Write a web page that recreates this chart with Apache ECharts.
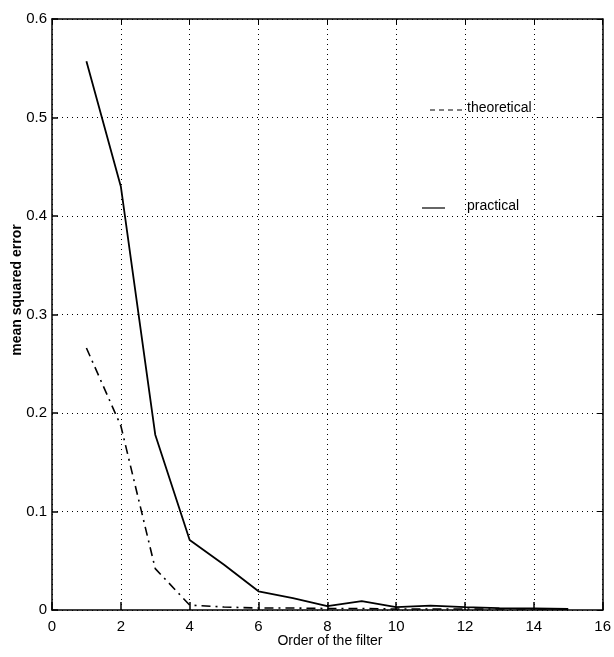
<!DOCTYPE html>
<html>
<head>
<meta charset="utf-8">
<script src="https://cdn.jsdelivr.net/npm/echarts@6/dist/echarts.min.js"></script>
<style>
  html, body { margin: 0; padding: 0; background: #fff; }
  #main { width: 614px; height: 657px; }
</style>
</head>
<body>
<div id="main"></div>
<script>
// filter order (x) and the two error curves
const order = [1, 2, 3, 4, 5, 6, 7, 8, 9, 10, 11, 12, 13, 14, 15];
const theoretical = [0.266, 0.187, 0.042, 0.005, 0.003, 0.002, 0.002, 0.0015, 0.0015, 0.001, 0.001, 0.001, 0.001, 0.001, 0.001];
const practical = [0.557, 0.43, 0.178, 0.071, 0.046, 0.019, 0.012, 0.004, 0.009, 0.003, 0.0045, 0.003, 0.002, 0.0015, 0.001];

const font = 'Liberation Sans, Arial, sans-serif';

const chart = echarts.init(document.getElementById('main'));

const pairs = (ys) => order.map((x, i) => [x, ys[i]]);

const gridLine = { show: true, lineStyle: { color: '#000', type: [1, 4], width: 1 } };

chart.setOption({
  animation: false,
  backgroundColor: '#fff',
  grid: { left: 52, right: 9, top: 19, bottom: 47 },
  xAxis: [{
    type: 'value', min: 0, max: 16, interval: 2,
    axisLine: { show: true, onZero: false, lineStyle: { color: '#000', width: 1.5 } },
    axisTick: { show: true, inside: true, length: 8, lineStyle: { color: '#000', width: 1.5 } },
    axisLabel: { color: '#000', fontSize: 15, fontFamily: font, margin: 9 },
    splitLine: gridLine
  }, {
    type: 'value', position: 'top', min: 0, max: 16, interval: 2,
    axisLine: { show: true, onZero: false, lineStyle: { color: '#000', width: 1.5 } },
    axisTick: { show: true, inside: true, length: 6, lineStyle: { color: '#000' } },
    axisLabel: { show: false },
    splitLine: { show: false }
  }],
  yAxis: [{
    type: 'value', min: 0, max: 0.6, interval: 0.1,
    axisLine: { show: true, onZero: false, lineStyle: { color: '#000', width: 1.5 } },
    axisTick: { show: true, inside: true, length: 6, lineStyle: { color: '#000', width: 1.5 } },
    axisLabel: {
      color: '#000', fontSize: 15, fontFamily: font, margin: 5,
      formatter: (v) => (v === 0 ? '0' : v.toFixed(1))
    },
    splitLine: gridLine
  }, {
    type: 'value', position: 'right', min: 0, max: 0.6, interval: 0.1,
    axisLine: { show: true, onZero: false, lineStyle: { color: '#000', width: 1.5 } },
    axisTick: { show: true, inside: true, length: 6, lineStyle: { color: '#000' } },
    axisLabel: { show: false },
    splitLine: { show: false }
  }],
  series: [{
    name: 'theoretical',
    type: 'line',
    data: pairs(theoretical),
    showSymbol: false,
    lineStyle: { color: '#000', width: 1.6, type: [9, 5, 2, 5] }
  }, {
    name: 'practical',
    type: 'line',
    data: pairs(practical),
    showSymbol: false,
    lineStyle: { color: '#000', width: 1.8 }
  }],
  graphic: [
    // legend entries
    { type: 'line', shape: { x1: 430, y1: 110, x2: 462, y2: 110 },
      style: { stroke: '#000', lineWidth: 1.2, lineDash: [5, 4] } },
    { type: 'text', left: 467, top: 101,
      style: { text: 'theoretical', fill: '#000', font: '14px ' + font } },
    { type: 'line', shape: { x1: 422, y1: 208, x2: 445, y2: 208 },
      style: { stroke: '#000', lineWidth: 1.2 } },
    { type: 'text', left: 467, top: 199,
      style: { text: 'practical', fill: '#000', font: '14px ' + font } },
    // axis titles
    { type: 'text', x: 330, y: 641,
      style: { text: 'Order of the filter', fill: '#000', font: '14px ' + font,
               align: 'center', verticalAlign: 'middle' } },
    { type: 'text', x: 17, y: 290, rotation: Math.PI / 2,
      style: { text: 'mean squared error', fill: '#000', font: 'bold 14px ' + font,
               align: 'center', verticalAlign: 'middle' } }
  ]
});
</script>
</body>
</html>
